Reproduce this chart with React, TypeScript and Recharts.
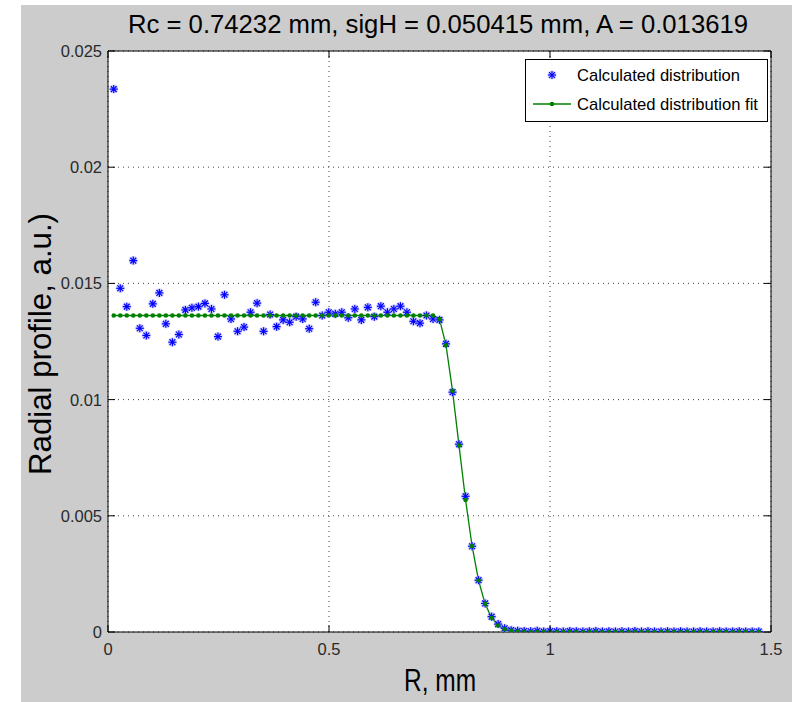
import { ComposedChart, Scatter, Line, XAxis, YAxis, CartesianGrid } from "recharts";

const R_MM = [
  0.013, 0.0277, 0.0425, 0.0572, 0.072, 0.0867, 0.1014, 0.1162, 0.1309, 0.1457,
  0.1604, 0.1751, 0.1899, 0.2046, 0.2194, 0.2341, 0.2488, 0.2636, 0.2783, 0.2931,
  0.3078, 0.3225, 0.3373, 0.352, 0.3668, 0.3815, 0.3962, 0.411, 0.4257, 0.4405,
  0.4552, 0.4699, 0.4847, 0.4994, 0.5142, 0.5289, 0.5436, 0.5584, 0.5731, 0.5879,
  0.6026, 0.6173, 0.6321, 0.6468, 0.6616, 0.6763, 0.691, 0.7058, 0.7205, 0.7353,
  0.75, 0.7647, 0.7795, 0.7942, 0.809, 0.8237, 0.8384, 0.8532, 0.8679, 0.8827,
  0.8974, 0.9121, 0.9269, 0.9416, 0.9564, 0.9711, 0.9858, 1.0006, 1.0153, 1.0301,
  1.0448, 1.0595, 1.0743, 1.089, 1.1038, 1.1185, 1.1332, 1.148, 1.1627, 1.1775,
  1.1922, 1.2069, 1.2217, 1.2364, 1.2512, 1.2659, 1.2806, 1.2954, 1.3101, 1.3249,
  1.3396, 1.3543, 1.3691, 1.3838, 1.3986, 1.4133, 1.428, 1.4428, 1.4575, 1.4723,
];

// "Calculated distribution" (blue stars)
const DIST = [
  0.02336, 0.01479, 0.014, 0.01598, 0.01307, 0.01276, 0.01412, 0.01459, 0.01326, 0.01247,
  0.0128, 0.01386, 0.01395, 0.014, 0.01414, 0.0139, 0.01271, 0.01451, 0.01347, 0.01294,
  0.01312, 0.01376, 0.01415, 0.01294, 0.01366, 0.01314, 0.01343, 0.01333, 0.01357, 0.01347,
  0.01305, 0.01419, 0.01362, 0.01376, 0.01369, 0.01376, 0.01352, 0.0139, 0.01343, 0.01397,
  0.01357, 0.01402, 0.01376, 0.0139, 0.01402, 0.01376, 0.01337, 0.01329, 0.01362, 0.01347,
  0.01343, 0.0124, 0.01032, 0.00808, 0.00584, 0.00369, 0.00223, 0.00123, 0.00066, 0.00034,
  0.00016, 0.00008, 0.00005, 0.00004, 0.00003, 0.00005, 0.00002, 0.00004, 0.00003, 0.00002,
  0.00004, 0.00003, 0.00002, 0.00003, 0.00004, 0.00002, 0.00003, 0.00002, 0.00003, 0.00002,
  0.00004, 0.00002, 0.00003, 0.00002, 0.00002, 0.00003, 0.00002, 0.00003, 0.00002, 0.00002,
  0.00003, 0.00002, 0.00002, 0.00003, 0.00002, 0.00002, 0.00003, 0.00002, 0.00002, 0.00002,
];

// "Calculated distribution fit" (green line with dots)
const FIT = [
  0.013619, 0.013619, 0.013619, 0.013619, 0.013619, 0.013619, 0.013619, 0.013619, 0.013619, 0.013619,
  0.013619, 0.013619, 0.013619, 0.013619, 0.013619, 0.013619, 0.013619, 0.013619, 0.013619, 0.013619,
  0.013619, 0.013619, 0.013619, 0.013619, 0.013619, 0.013619, 0.013619, 0.013619, 0.013619, 0.013619,
  0.013619, 0.013619, 0.013619, 0.013619, 0.013619, 0.013619, 0.013619, 0.013619, 0.013619, 0.013619,
  0.013619, 0.013619, 0.013619, 0.013619, 0.013619, 0.013619, 0.013619, 0.013619, 0.013619, 0.013619,
  0.013462, 0.012341, 0.010376, 0.008021, 0.005679, 0.003701, 0.002216, 0.001213, 0.000612, 0.000282,
  0.00012, 0.000047, 0.000017, 0.000006, 0.000002, 0, 0, 0, 0, 0,
  0, 0, 0, 0, 0, 0, 0, 0, 0, 0,
  0, 0, 0, 0, 0, 0, 0, 0, 0, 0,
  0, 0, 0, 0, 0, 0, 0, 0, 0, 0,
];

const X_TICKS = [0, 0.5, 1, 1.5];
const Y_TICKS = [0, 0.005, 0.01, 0.015, 0.02, 0.025];

const TITLE = "Rc = 0.74232 mm,  sigH = 0.050415 mm,  A = 0.013619";

const W = 792;
const H = 702;
const PL = 108;
const PR = 771;
const PT = 51;
const PB = 632;
const FONT = "'Liberation Sans', Arial, Helvetica, sans-serif";
const TICK_LEN = 7;

const rows = R_MM.map((r, i) => ({ r, dist: DIST[i], fit: FIT[i] }));

function Star(props: any) {
  const { cx, cy } = props;
  if (cx == null || cy == null) return null;
  const s = 4;
  const d = 2.9;
  return (
    <g>
      <circle cx={cx} cy={cy} r={4.6} fill="#9c9cff" opacity={0.45} />
      <g stroke="#0000ff" strokeWidth={1.2}>
        <line x1={cx - s} y1={cy} x2={cx + s} y2={cy} />
        <line x1={cx} y1={cy - s} x2={cx} y2={cy + s} />
        <line x1={cx - d} y1={cy - d} x2={cx + d} y2={cy + d} />
        <line x1={cx - d} y1={cy + d} x2={cx + d} y2={cy - d} />
      </g>
    </g>
  );
}

function BottomTick(props: any) {
  const { x, payload } = props;
  return (
    <g>
      <line x1={x} x2={x} y1={PB} y2={PB - TICK_LEN} stroke="#000" />
      <text x={x} y={655} textAnchor="middle" fontSize={16.5} fill="#2a2a2a" fontFamily={FONT}>
        {String(payload.value)}
      </text>
    </g>
  );
}

function TopTick(props: any) {
  const { x } = props;
  return <line x1={x} x2={x} y1={PT} y2={PT + TICK_LEN} stroke="#000" />;
}

function LeftTick(props: any) {
  const { y, payload } = props;
  return (
    <g>
      <line x1={PL} x2={PL + TICK_LEN} y1={y} y2={y} stroke="#000" />
      <text x={PL - 6} y={y + 6} textAnchor="end" fontSize={16.5} fill="#2a2a2a" fontFamily={FONT}>
        {String(payload.value)}
      </text>
    </g>
  );
}

function RightTick(props: any) {
  const { y } = props;
  return <line x1={PR} x2={PR - TICK_LEN} y1={y} y2={y} stroke="#000" />;
}

export default function App() {
  return (
    <div style={{ position: "absolute", left: 0, top: 0, width: W, height: H, background: "#fff" }}>
      <div style={{ position: "absolute", left: 21, top: 5, right: 0, bottom: 0, background: "#cccccc" }} />
      <div style={{ position: "absolute", left: 0, top: 0 }}>
        <ComposedChart width={W} height={H} data={rows} margin={{ top: 0, right: 0, bottom: 0, left: 0 }}>
          <CartesianGrid
            xAxisId="b"
            yAxisId="l"
            fill="#fff"
            stroke="#444"
            strokeDasharray="1 4"
          />
          <XAxis
            xAxisId="b"
            dataKey="r"
            type="number"
            domain={[0, 1.5]}
            ticks={X_TICKS}
            interval={0}
            allowDataOverflow
            height={H - PB}
            axisLine={{ stroke: "#000" }}
            tickLine={false}
            tick={<BottomTick />}
          />
          <XAxis
            xAxisId="t"
            orientation="top"
            dataKey="r"
            type="number"
            domain={[0, 1.5]}
            ticks={X_TICKS}
            interval={0}
            allowDataOverflow
            height={PT}
            axisLine={{ stroke: "#000" }}
            tickLine={false}
            tick={<TopTick />}
          />
          <YAxis
            yAxisId="l"
            type="number"
            domain={[0, 0.025]}
            ticks={Y_TICKS}
            interval={0}
            allowDataOverflow
            width={PL}
            axisLine={{ stroke: "#000" }}
            tickLine={false}
            tick={<LeftTick />}
          />
          <YAxis
            yAxisId="r"
            orientation="right"
            type="number"
            domain={[0, 0.025]}
            ticks={Y_TICKS}
            interval={0}
            allowDataOverflow
            width={W - PR}
            axisLine={{ stroke: "#000" }}
            tickLine={false}
            tick={<RightTick />}
          />
          <Scatter
            xAxisId="b"
            yAxisId="l"
            dataKey="dist"
            shape={<Star />}
            isAnimationActive={false}
          />
          <Line
            xAxisId="t"
            yAxisId="r"
            dataKey="fit"
            type="linear"
            stroke="#008000"
            strokeWidth={1.3}
            dot={{ r: 2.3, fill: "#008000", stroke: "none" }}
            activeDot={false}
            isAnimationActive={false}
          />
        </ComposedChart>
      </div>

      <svg
        width={W}
        height={H}
        style={{ position: "absolute", left: 0, top: 0, pointerEvents: "none" }}
        fontFamily={FONT}
      >
        <text x={438} y={33} textAnchor="middle" fontSize={26} fill="#000" textLength={620} lengthAdjust="spacingAndGlyphs">
          {TITLE}
        </text>
        <text x={440} y={691} textAnchor="middle" fontSize={32} fill="#000" textLength={72} lengthAdjust="spacingAndGlyphs">
          R, mm
        </text>
        <text
          x={51}
          y={344}
          textAnchor="middle"
          fontSize={31}
          fill="#000"
          transform="rotate(-90, 51, 344)"
          textLength={262}
          lengthAdjust="spacingAndGlyphs"
        >
          Radial profile, a.u.)
        </text>

        <rect x={525.5} y={59.5} width={242} height={62} fill="#fff" stroke="#000" />
        <Star cx={552} cy={75} />
        <text x={577} y={81} fontSize={17} fill="#000" textLength={163} lengthAdjust="spacingAndGlyphs">
          Calculated distribution
        </text>
        <line x1={533} x2={571} y1={104} y2={104} stroke="#008000" strokeWidth={1.3} />
        <circle cx={552} cy={104} r={2.3} fill="#008000" />
        <text x={577} y={110} fontSize={17} fill="#000" textLength={181} lengthAdjust="spacingAndGlyphs">
          Calculated distribution fit
        </text>
      </svg>
    </div>
  );
}
